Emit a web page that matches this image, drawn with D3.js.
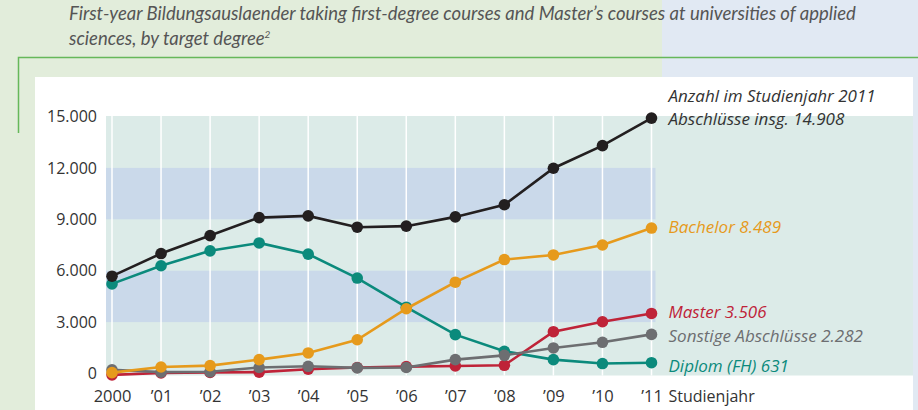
<!DOCTYPE html>
<html>
<head>
<meta charset="utf-8">
<script src="https://cdn.jsdelivr.net/npm/d3@7"></script>
<style>
  html, body { margin: 0; padding: 0; }
  body { width: 918px; height: 410px; overflow: hidden; }
  svg { display: block; }
</style>
</head>
<body>
<div id="wrapper"></div>
<script>
// data
const yearLabels = ["2000", "’01", "’02", "’03", "’04", "’05", "’06", "’07", "’08", "’09", "’10", "’11"]
const totalValues = [5680, 7000, 8050, 9100, 9200, 8540, 8600, 9140, 9850, 11980, 13300, 14908]
const diplomValues = [5230, 6290, 7160, 7620, 6970, 5570, 3870, 2270, 1300, 810, 580, 631]
const masterValues = [-80, 30, 60, 80, 250, 350, 400, 440, 480, 2440, 3020, 3506]
const sonstigeValues = [220, 80, 100, 350, 420, 330, 350, 810, 1060, 1490, 1820, 2282]
const bachelorValues = [50, 380, 460, 810, 1200, 1970, 3780, 5330, 6650, 6920, 7500, 8489]
const yTicks = [0, 3000, 6000, 9000, 12000, 15000]
const bandRanges = [[3000, 6000], [9000, 12000]]

const titleLine1 = "First-year Bildungsauslaender taking first-degree courses and Master’s courses at universities of applied"
const titleLine2 = "sciences, by target degree"

async function drawChart() {

  // 2. dimensions
  let dimensions = {
    width: 918,
    height: 410,
    margin: { top: 116.5, right: 266.5, bottom: 36.5, left: 112 },
  }
  dimensions.boundedWidth = dimensions.width - dimensions.margin.left - dimensions.margin.right
  dimensions.boundedHeight = dimensions.height - dimensions.margin.top - dimensions.margin.bottom

  const series = [
    { name: "Diplom (FH)", values: diplomValues, color: "#0b8a7c", labelColor: "#0b8a7c", dy: 9 },
    { name: "Master", values: masterValues, color: "#bf2338", labelColor: "#bf2338", dy: 4.5 },
    { name: "Sonstige Abschlüsse", values: sonstigeValues, color: "#6d6e71", labelColor: "#6d6e71", dy: 7.5 },
    { name: "Bachelor", values: bachelorValues, color: "#e69a1c", labelColor: "#e69a1c", dy: 5 },
    { name: "Abschlüsse insg.", values: totalValues, color: "#231f20", labelColor: "#333333", dy: 6.5 },
  ]

  const numberFormat = d3.formatLocale({ decimal: ",", thousands: ".", grouping: [3], currency: ["", "€"] }).format(",")

  // 3. canvas
  const wrapper = d3.select("#wrapper")
    .append("svg")
    .attr("width", dimensions.width)
    .attr("height", dimensions.height)

  // page backgrounds
  wrapper.append("rect")
    .attr("width", 662).attr("height", dimensions.height)
    .attr("fill", "#e2eddb")
  wrapper.append("rect")
    .attr("x", 662).attr("width", dimensions.width - 662).attr("height", dimensions.height)
    .attr("fill", "#e1e9f3")

  // title
  const title = wrapper.append("g")
    .style("font-family", "Lato, 'Open Sans', sans-serif")
    .style("font-style", "italic")
    .style("font-size", "18.5px")
    .attr("fill", "#555555")
  title.append("text").attr("x", 69).attr("y", 19.5).text(titleLine1)
  const t2 = title.append("text").attr("x", 69).attr("y", 44.5)
  t2.append("tspan").text(titleLine2)
  t2.append("tspan").attr("dy", -7).style("font-size", "10px").text("2")

  // green frame line
  wrapper.append("path")
    .attr("d", "M18.5,133 V57.5 H918")
    .attr("fill", "none")
    .attr("stroke", "#66b85a")
    .attr("stroke-width", 1.5)

  // white panel
  wrapper.append("rect")
    .attr("x", 35).attr("y", 77)
    .attr("width", 913 - 35).attr("height", dimensions.height - 77)
    .attr("fill", "#ffffff")

  const bounds = wrapper.append("g")
    .attr("transform", `translate(${dimensions.margin.left}, ${dimensions.margin.top})`)

  // 4. scales
  const xScale = d3.scalePoint()
    .domain(yearLabels)
    .range([0, dimensions.boundedWidth])

  const yScale = d3.scaleLinear()
    .domain([0, 15000])
    .range([dimensions.boundedHeight, 0])

  // plot backgrounds
  bounds.append("rect")
    .attr("x", -6)
    .attr("y", yScale(15000) - 0.5)
    .attr("width", 913 - dimensions.margin.left + 6)
    .attr("height", yScale(0) - yScale(15000) + 2.5)
    .attr("fill", "#dcebe8")

  bounds.selectAll(".band")
    .data(bandRanges)
    .join("rect")
    .attr("class", "band")
    .attr("x", -6)
    .attr("y", d => yScale(d[1]))
    .attr("width", dimensions.boundedWidth + 10)
    .attr("height", d => yScale(d[0]) - yScale(d[1]))
    .attr("fill", "#cad9ea")

  // vertical white grid lines
  bounds.selectAll(".grid")
    .data(yearLabels)
    .join("line")
    .attr("class", "grid")
    .attr("x1", d => xScale(d))
    .attr("x2", d => xScale(d))
    .attr("y1", yScale(15000) - 0.5)
    .attr("y2", yScale(0) + 2)
    .attr("stroke", "#ffffff")
    .attr("stroke-width", 1.5)

  // 5. data
  const lineGenerator = d3.line()
    .x((d, i) => xScale(yearLabels[i]))
    .y(d => yScale(d))

  const seriesGroups = bounds.selectAll(".series")
    .data(series)
    .join("g")
    .attr("class", "series")

  seriesGroups.append("path")
    .attr("d", d => lineGenerator(d.values))
    .attr("fill", "none")
    .attr("stroke", d => d.color)
    .attr("stroke-width", 2.6)

  seriesGroups.selectAll("circle")
    .data(d => d.values.map(v => ({ v, color: d.color })))
    .join("circle")
    .attr("cx", (d, i) => xScale(yearLabels[i]))
    .attr("cy", d => yScale(d.v))
    .attr("r", 5.8)
    .attr("fill", d => d.color)

  // 6. peripherals
  const yAxisGenerator = d3.axisLeft()
    .scale(yScale)
    .tickValues(yTicks)
    .tickFormat(numberFormat)
    .tickSize(0)
    .tickPadding(15)

  const yAxis = bounds.append("g")
    .call(yAxisGenerator)
  yAxis.select(".domain").remove()
  yAxis.selectAll("text")
    .attr("fill", "#333333")
    .style("font-family", "'Open Sans', sans-serif")
    .style("font-size", "16px")

  const xAxisGenerator = d3.axisBottom()
    .scale(xScale)
    .tickSize(0)
    .tickPadding(16.5)

  const xAxis = bounds.append("g")
    .call(xAxisGenerator)
    .attr("transform", `translate(0, ${dimensions.boundedHeight})`)
  xAxis.select(".domain").remove()
  xAxis.selectAll("text")
    .attr("fill", "#333333")
    .style("font-family", "'Open Sans', sans-serif")
    .style("font-size", "16.5px")

  xAxis.append("text")
    .attr("x", xScale("’11") + 17)
    .attr("y", 28)
    .attr("fill", "#333333")
    .style("font-family", "'Open Sans', sans-serif")
    .style("font-size", "16px")
    .style("text-anchor", "start")
    .text("Studienjahr")

  // end labels
  const lastX = xScale(yearLabels[yearLabels.length - 1]) + 17
  const labels = bounds.append("g")
    .style("font-family", "'Open Sans', sans-serif")
    .style("font-style", "italic")
    .style("font-size", "17px")

  labels.selectAll("text")
    .data(series)
    .join("text")
    .attr("x", lastX)
    .attr("y", d => yScale(d.values[d.values.length - 1]) + d.dy)
    .attr("fill", d => d.labelColor)
    .text(d => `${d.name} ${numberFormat(d.values[d.values.length - 1])}`)

  labels.append("text")
    .attr("x", lastX)
    .attr("y", yScale(totalValues[totalValues.length - 1]) - 16)
    .attr("fill", "#333333")
    .text("Anzahl im Studienjahr 2011")
}
drawChart()
</script>
</body>
</html>
